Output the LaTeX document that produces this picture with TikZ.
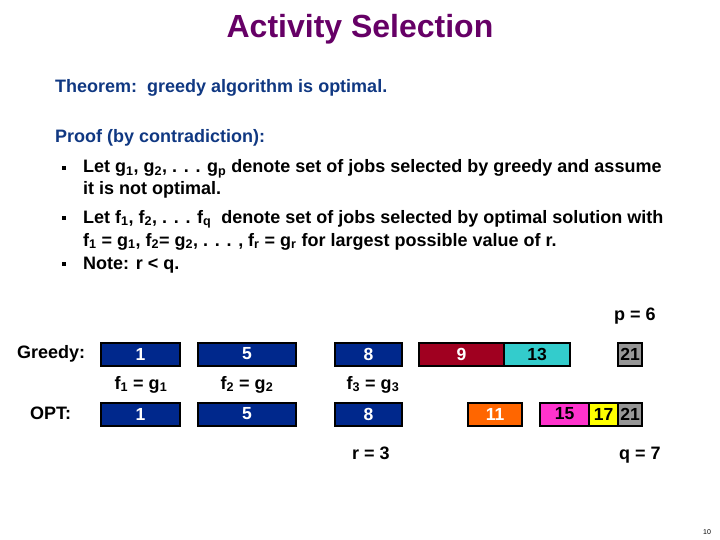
\documentclass[tikz,border=0pt]{standalone}
\usepackage{fontspec}
\setmainfont{Liberation Sans}
\definecolor{titlepurple}{RGB}{102,0,102}
\definecolor{headblue}{RGB}{16,56,130}
\definecolor{barblue}{RGB}{0,40,140}
\definecolor{barred}{RGB}{160,0,32}
\definecolor{barcyan}{RGB}{51,204,204}
\definecolor{bargray}{RGB}{150,150,150}
\definecolor{barorange}{RGB}{255,102,0}
\definecolor{barmagenta}{RGB}{255,51,204}
\definecolor{baryellow}{RGB}{255,255,0}
\newcommand{\sbs}[1]{\textsubscript{#1}}
\tikzset{
  txt/.style={anchor=base west, inner sep=0pt, font=\fontsize{18}{20}\selectfont\bfseries},
  ctxt/.style={anchor=base, inner sep=0pt, font=\fontsize{18}{20}\selectfont\bfseries},
  bar/.style={draw=black, line width=2pt, inner sep=0pt, minimum height=23pt, font=\fontsize{17.5}{17.5}\selectfont\bfseries},
  bul/.style={fill=black, inner sep=0pt, minimum size=3.5pt}
}
\begin{document}
\begin{tikzpicture}[x=1pt,y=-1pt]
\useasboundingbox (0,0) rectangle (720,540);
% title
\node[anchor=base, inner sep=0pt, text=titlepurple, font=\fontsize{32}{34}\selectfont\bfseries] (title) at (360,38) {Activity Selection};
\node[txt, text=headblue] (thm) at (55,93) {Theorem:\ \ greedy algorithm is optimal.};
\node[txt, text=headblue] (proof) at (55,143) {Proof (by contradiction):};
% bullets
\node[bul] (b1) at (64,168) {};
\node[bul] (b2) at (64,218) {};
\node[bul] (b3) at (64,264) {};
\node[txt] (l1) at (83,173) {Let g\sbs{1}, g\sbs{2}, . . . g\sbs{p} denote set of jobs selected by greedy and assume};
\node[txt] (l2) at (83,195) {it is not optimal.};
\node[txt] (l3) at (83,223) {Let f\sbs{1}, f\sbs{2}, . . . f\sbs{q}\ \ denote set of jobs selected by optimal solution with};
\node[txt] (l4) at (83,246) {f\sbs{1} = g\sbs{1}, f\sbs{2}= g\sbs{2}, . . . , f\sbs{r} = g\sbs{r} for largest possible value of r.};
\node[txt] (l5) at (83,269) {Note: r < q.};
% labels
\node[ctxt] (p) at (635,320) {p = 6};
\node[txt] (greedy) at (17,358) {Greedy:};
\node[txt] (opt) at (30,419) {OPT:};
\node[ctxt] (e1) at (141,389) {f\sbs{1} = g\sbs{1}};
\node[ctxt] (e2) at (247,389) {f\sbs{2} = g\sbs{2}};
\node[ctxt] (e3) at (373,389) {f\sbs{3} = g\sbs{3}};
\node[ctxt] (r) at (371,459) {r = 3};
\node[ctxt] (q) at (640,459) {q = 7};
% greedy bars
\node[bar, fill=barblue, text=white, minimum width=79pt] (g1) at (140.5,354) {1};
\node[bar, fill=barblue, text=white, minimum width=98pt] (g2) at (247,354) {5};
\node[bar, fill=barblue, text=white, minimum width=67pt] (g3) at (368.5,354) {8};
\node[bar, fill=barred, text=white, minimum width=85pt] (g4) at (461.5,354) {9};
\node[bar, fill=barcyan, minimum width=66pt] (g5) at (537,354) {13};
\node[bar, fill=bargray, minimum width=24pt] (g6) at (630,354) {21};
% opt bars
\node[bar, fill=barblue, text=white, minimum width=79pt] (f1) at (140.5,414) {1};
\node[bar, fill=barblue, text=white, minimum width=98pt] (f2) at (247,414) {5};
\node[bar, fill=barblue, text=white, minimum width=67pt] (f3) at (368.5,414) {8};
\node[bar, fill=barorange, text=white, minimum width=54pt] (f4) at (495,414) {11};
\node[bar, fill=barmagenta, minimum width=49pt] (f5) at (564.5,414) {15};
\node[bar, fill=baryellow, minimum width=29pt] (f6) at (603.5,414) {17};
\node[bar, fill=bargray, minimum width=24pt] (f7) at (630,414) {21};
% page number
\node[anchor=base, inner sep=0pt, font=\fontsize{7}{7}\selectfont] (pg) at (707,534) {10};
\end{tikzpicture}
\end{document}
